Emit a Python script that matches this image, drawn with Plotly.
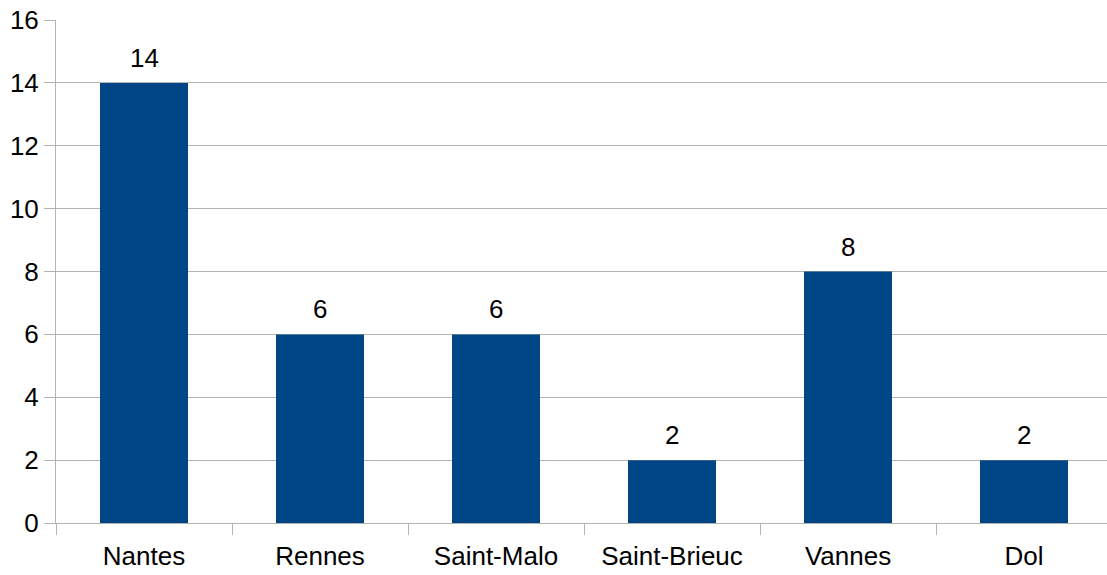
import plotly.graph_objects as go

cities = ["Nantes", "Rennes", "Saint-Malo", "Saint-Brieuc", "Vannes", "Dol"]
counts = [14, 6, 6, 2, 8, 2]

BAR_COLOR = "#004586"
GRID = "#b3b3b3"
FONT = "Liberation Sans, Arial, sans-serif"
SIZE = 26

fig = go.Figure(
    go.Bar(
        x=cities,
        y=counts,
        marker=dict(color=BAR_COLOR, line=dict(width=0)),
        width=0.5,
        hoverinfo="x+y",
    )
)

# value labels above the bars
for city, v in zip(cities, counts):
    fig.add_annotation(
        x=city, y=v, text=str(v), showarrow=False,
        yanchor="bottom", yshift=8,
        font=dict(family=FONT, size=SIZE, color="black"),
    )

fig.update_layout(
    width=1107,
    height=575,
    margin=dict(l=56, r=0, t=20, b=52),
    paper_bgcolor="white",
    plot_bgcolor="white",
    font=dict(family=FONT, size=SIZE, color="black"),
    showlegend=False,
    xaxis=dict(
        range=[-0.5, -0.5 + 1051 / 176],
        automargin=False,
        showgrid=False,
        showline=True,
        linecolor=GRID,
        linewidth=1,
        ticks="outside",
        tickson="boundaries",
        ticklen=11,
        tickcolor=GRID,
        ticklabelstandoff=10,
        tickfont=dict(size=SIZE),
    ),
    yaxis=dict(
        range=[0, 16],
        dtick=2,
        automargin=False,
        ticklabeloverflow="allow",
        showgrid=True,
        gridcolor=GRID,
        gridwidth=1,
        zeroline=False,
        showline=True,
        linecolor=GRID,
        ticks="outside",
        ticklen=11,
        tickcolor=GRID,
        tickfont=dict(size=SIZE),
    ),
)

# drop the page's default body margin so the figure sits at the window corner
fig.write_html(
    "out.html",
    config={"displayModeBar": False},
    post_script="document.body.style.margin = '0';",
)
